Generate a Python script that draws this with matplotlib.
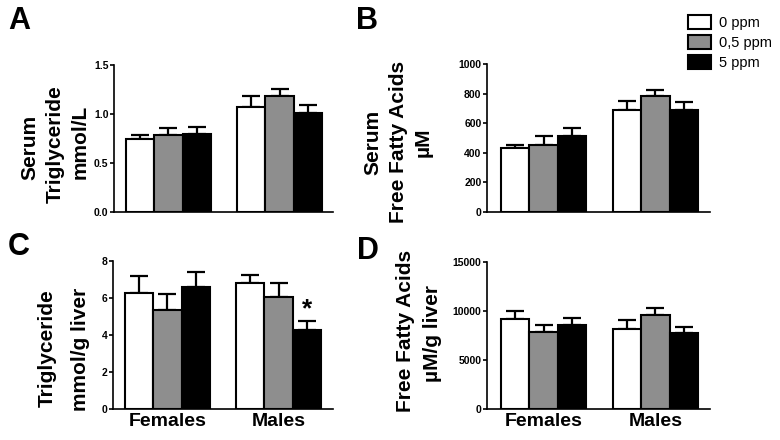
import numpy as np
import matplotlib
matplotlib.use('Agg')
from matplotlib import pyplot as plt

plt.rcParams['font.family'] = ['Liberation Sans', 'DejaVu Sans']

# data
groups = ['Females', 'Males']
doses = ['0 ppm', '0,5 ppm', '5 ppm']
colors = ['white', '#8e8e8e', 'black']

serumTG = [[0.74, 1.07], [0.79, 1.18], [0.80, 1.01]]
serumTGerr = [[0.05, 0.11], [0.07, 0.08], [0.07, 0.08]]

serumFFA = [[432, 691], [450, 786], [516, 691]]
serumFFAerr = [[24, 61], [61, 36], [52, 50]]

liverTG = [[6.26, 6.83], [5.33, 6.04], [6.58, 4.28]]
liverTGerr = [[0.92, 0.44], [0.88, 0.79], [0.85, 0.47]]

liverFFA = [[9140, 8190], [7820, 9550], [8530, 7720]]
liverFFAerr = [[880, 850], [780, 780], [710, 610]]


def px(l, t, r, b):
    # pixel box -> figure fraction
    return [l / 780, 1 - b / 440, (r - l) / 780, (b - t) / 440]


def drawPanel(ax, vals, errs, ymax, yticks, ticklabels, xlim, showX):
    w = 0.255
    for i in range(3):
        x = np.arange(2) + (i - 1) * w
        ax.bar(x, vals[i], w, color=colors[i], edgecolor='black',
               linewidth=1.5, zorder=3, label=doses[i])
        ax.errorbar(x, vals[i], yerr=[np.zeros(2), errs[i]], fmt='none',
                    ecolor='black', elinewidth=1.6, capsize=6.5,
                    capthick=1.6, zorder=2)
    ax.set_ylim(0, ymax)
    ax.set_xlim(*xlim)
    ax.set_yticks(yticks)
    ax.set_yticklabels(ticklabels, fontsize=7.5, fontweight='bold',
                       family=['Liberation Sans Narrow', 'Liberation Sans'])
    for s in ['top', 'right']:
        ax.spines[s].set_visible(False)
    for s in ['left', 'bottom']:
        ax.spines[s].set_linewidth(1.2)
    ax.tick_params(axis='y', length=3, width=1.2, pad=1)
    ax.tick_params(axis='x', length=0)
    if showX:
        ax.set_xticks([0, 1])
        ax.set_xticklabels(groups, fontsize=14, fontweight='bold')
        ax.tick_params(axis='x', pad=3)
    else:
        ax.set_xticks([])


fig = plt.figure(figsize=(7.8, 4.4), dpi=100)

axA = fig.add_axes(px(114, 65, 333, 212))
drawPanel(axA, serumTG, serumTGerr, 1.5, [0, 0.5, 1.0, 1.5],
          ['0.0', '0.5', '1.0', '1.5'], (-0.49, 1.48), False)

axB = fig.add_axes(px(487, 64, 710, 212))
drawPanel(axB, serumFFA, serumFFAerr, 1000, [0, 200, 400, 600, 800, 1000],
          ['0', '200', '400', '600', '800', '1000'], (-0.507, 1.49), False)

axC = fig.add_axes(px(113, 261, 333, 409))
drawPanel(axC, liverTG, liverTGerr, 8, [0, 2, 4, 6, 8],
          ['0', '2', '4', '6', '8'], (-0.49, 1.49), True)
axC.text(1 + 0.255, 4.75, '*', ha='center', va='bottom', fontsize=19,
         fontweight='bold')

axD = fig.add_axes(px(487, 262, 710, 409))
drawPanel(axD, liverFFA, liverFFAerr, 15000, [0, 5000, 10000, 15000],
          ['0', '5000', '10000', '15000'], (-0.507, 1.49), True)

# y labels
lab = dict(rotation=90, ha='center', va='center', fontsize=15,
           fontweight='bold')
fig.text(30 / 780, 1 - 147 / 440, 'Serum', **lab)
fig.text(55 / 780, 1 - 144 / 440, 'Triglyceride', **lab)
fig.text(80 / 780, 1 - 142 / 440, 'mmol/L', **lab)

fig.text(373 / 780, 1 - 142 / 440, 'Serum', **lab)
fig.text(399 / 780, 1 - 142 / 440, 'Free Fatty Acids', **lab)
fig.text(423 / 780, 1 - 142 / 440, 'µM', **lab)

fig.text(47 / 780, 1 - 348 / 440, 'Triglyceride', **lab)
fig.text(80 / 780, 1 - 349 / 440, 'mmol/g liver', **lab)

fig.text(405 / 780, 1 - 331 / 440, 'Free Fatty Acids', **lab)
fig.text(433 / 780, 1 - 333 / 440, 'µM/g liver', **lab)

# panel letters
for letter, x, y in [('A', 8, 6), ('B', 356, 6), ('C', 8, 232), ('D', 357, 236)]:
    fig.text(x / 780, 1 - y / 440, letter, ha='left', va='top',
             fontsize=22, fontweight='bold')

h, l = axB.get_legend_handles_labels()
fig.legend(h, l, loc='upper left', bbox_to_anchor=(675 / 780, 1 - 2 / 440),
           frameon=False, fontsize=10.5, handlelength=1.6, handleheight=1.1,
           labelspacing=0.35, handletextpad=0.5)

fig.savefig('out.png', dpi=100)
